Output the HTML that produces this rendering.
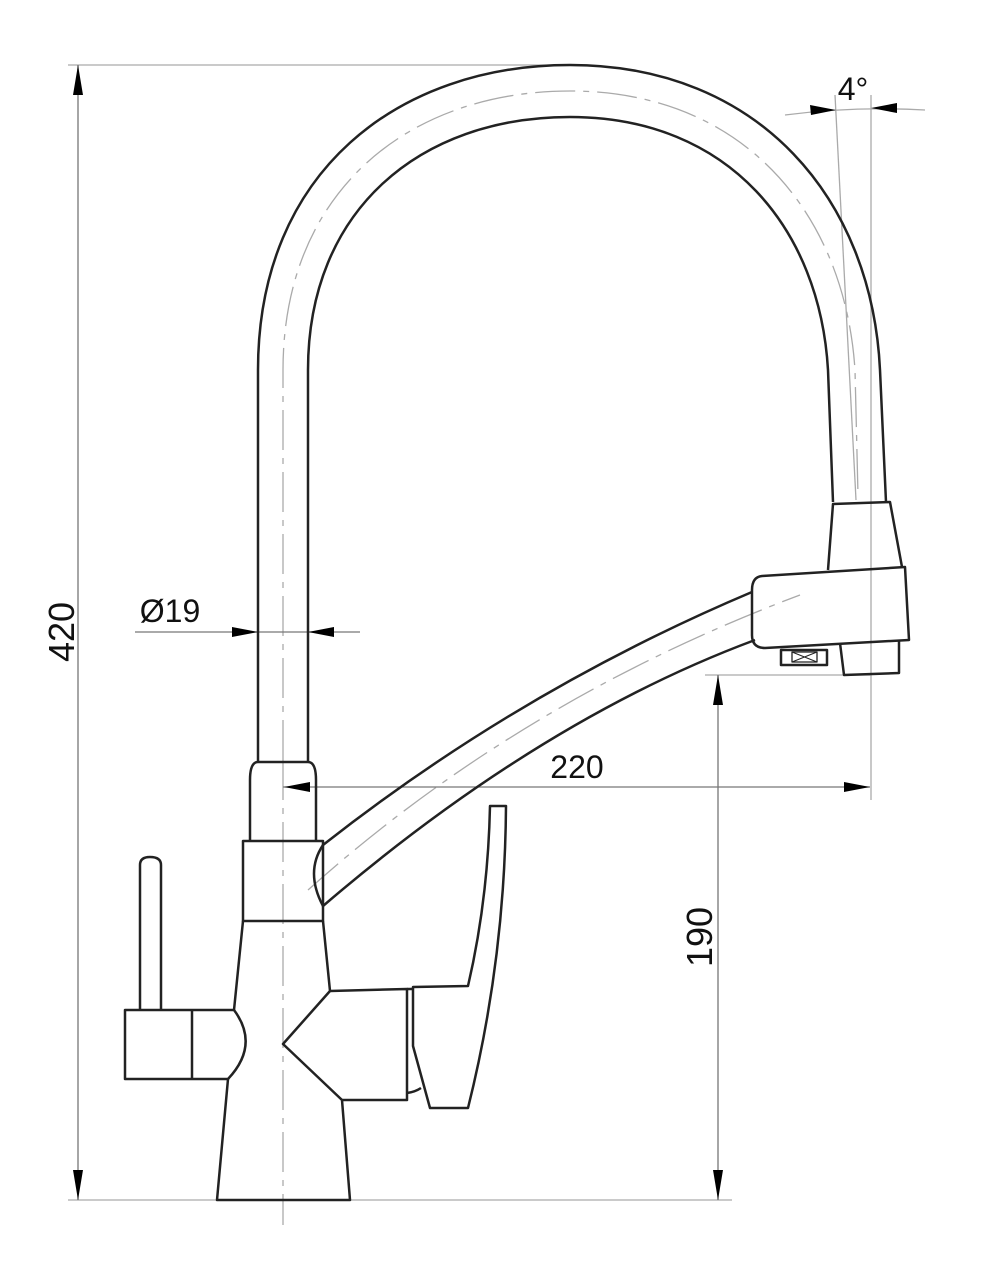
<!DOCTYPE html>
<html><head><meta charset="utf-8"><style>
html,body{margin:0;padding:0;background:#fff;}
svg{display:block;}
text{font-family:"Liberation Sans",sans-serif;fill:#111;}
</style></head><body>
<svg width="981" height="1280" viewBox="0 0 981 1280" xmlns="http://www.w3.org/2000/svg">
<g fill="none" stroke="#aaa" stroke-width="1.3">
  <line x1="68" y1="65" x2="575" y2="65"/>
  <line x1="68" y1="1200" x2="732" y2="1200"/>
  <line x1="871" y1="95" x2="871" y2="800"/>
  <line x1="835" y1="95" x2="856" y2="500"/>
  <line x1="705" y1="675" x2="870" y2="675"/>
  <path d="M785,115 Q855,106 925,110"/>
  <g stroke-dasharray="40,8,6,8">
    <line x1="283" y1="760" x2="283" y2="1225"/>
    <path d="M283,760 L283,370 C283,190 410,91 570,91 C745,91 845,215 855,370 L858,495"/>
    <path d="M308,890 Q520,700 800,595"/>
  </g>
</g>
<g fill="none" stroke="#777" stroke-width="1.3">
  <line x1="78" y1="65" x2="78" y2="1200"/>
  <line x1="135" y1="632" x2="360" y2="632"/>
  <line x1="283" y1="787" x2="870" y2="787"/>
  <line x1="718" y1="675" x2="718" y2="1200"/>
</g>
<g fill="#000">
  <polygon points="78,65 73,95 83,95"/>
  <polygon points="78,1200 73,1170 83,1170"/>
  <polygon points="258,632 232,627 232,637"/>
  <polygon points="308,632 334,627 334,637"/>
  <polygon points="284,787 310,782 310,792"/>
  <polygon points="870,787 844,782 844,792"/>
  <polygon points="718,675 713,705 723,705"/>
  <polygon points="718,1200 713,1170 723,1170"/>
  <polygon points="836,110 810,105 811,115"/>
  <polygon points="871,108 897,103 897,113"/>
</g>
<g fill="none" stroke="#222" stroke-width="2.5" stroke-linejoin="round">
  <path d="M258,762 L258,370 C258,170 400,65 570,65 C760,65 872,200 880,370 L886,502"/>
  <path d="M308,762 L308,370 C308,210 420,117 570,117 C730,117 820,230 828,370 L833,502"/>
  <path d="M250,841 L250,780 Q250,762 258,762 L308,762 Q316,762 316,780 L316,841"/>
  <rect x="243" y="841" width="80" height="80"/>
  <path d="M323,845 Q520,690 752,592"/>
  <path d="M323,906 Q540,720 755,640"/>
  <path d="M323,845 Q305,872 323,906"/>
  <path d="M752,635 L752,590 Q752,577 762,576 L905,567 L909,640 L765,648 Q752,648 752,635 Z"/>
  <path d="M828,570 L833,504 L890,502 L902,567"/>
  <path d="M840,643 L844,675 L899,673 L899,641"/>
  <rect x="781" y="650" width="46" height="15"/>
  <rect x="792" y="652" width="25" height="10" stroke-width="1.3"/>
  <path d="M792,652 L817,662 M817,652 L792,662" stroke-width="1"/>
  <path d="M243,921 L234,1010 M228,1079 L217,1200 L350,1200 L342,1100 L283,1044 L330,991 L323,921"/>
  <path d="M330,991 L407,989 L407,1100 L342,1100"/>
  <path d="M407,989 L413,989 M407,1093 Q415,1092 421,1088"/>
  <path d="M413,987 L468,986 Q488,900 490,806 L506,806 Q505,960 468,1108 L430,1108 L413,1046 Z"/>
  <path d="M234,1010 L125,1010 L125,1079 L228,1079 Q260,1045 234,1010"/>
  <line x1="192" y1="1010" x2="192" y2="1079"/>
  <path d="M140,1010 L140,865 Q140,857 150,857 Q161,857 161,865 L161,1010"/>
</g>
<text x="170" y="622" font-size="32" text-anchor="middle">Ø19</text>
<text x="577" y="778" font-size="32" text-anchor="middle">220</text>
<text x="853" y="100" font-size="32" text-anchor="middle">4°</text>
<text x="0" y="0" font-size="36" text-anchor="middle" transform="translate(74,632) rotate(-90)">420</text>
<text x="0" y="0" font-size="36" text-anchor="middle" transform="translate(712,937) rotate(-90)">190</text>
</svg>
</body></html>
